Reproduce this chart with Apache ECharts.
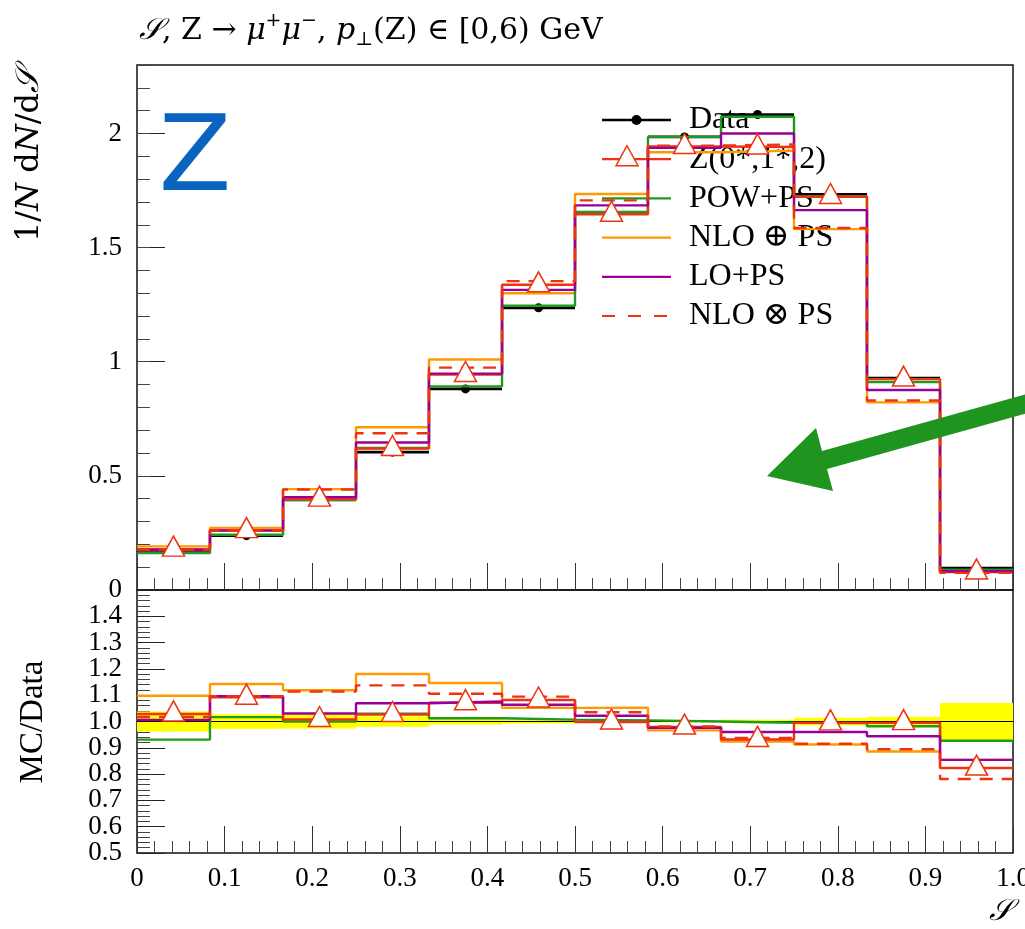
<!DOCTYPE html>
<html>
<head>
<meta charset="utf-8">
<title>Event shape S, Z to mu mu</title>
<script src="https://cdn.jsdelivr.net/npm/echarts@6/dist/echarts.min.js"></script>
<style>
  html, body { margin: 0; padding: 0; background: #fff; }
  #chart { width: 1025px; height: 929px; }
</style>
</head>
<body>
<div id="chart"></div>
<script>
// Bin edges of the S histogram (12 equal bins on [0, 1])
const binEdges = [0, 0.0833, 0.1667, 0.25, 0.3333, 0.4167, 0.5, 0.5833, 0.6667, 0.75, 0.8333, 0.9167, 1.0];

// Measured distribution 1/N dN/dS and its relative uncertainty
const dataVals   = [0.174, 0.238, 0.395, 0.604, 0.881, 1.236, 1.649, 1.985, 2.083, 1.733, 0.928, 0.096];
const dataRelErr = [0.038, 0.028, 0.027, 0.020, 0.011, 0.008, 0.005, 0.004, 0.007, 0.014, 0.018, 0.070];

// Predictions
const zVals        = [0.179, 0.260, 0.398, 0.620, 0.944, 1.337, 1.646, 1.943, 1.941, 1.724, 0.924, 0.079]; // Z(0*,1*,2)
const powVals      = [0.162, 0.242, 0.395, 0.622, 0.892, 1.245, 1.656, 1.985, 2.073, 1.723, 0.911, 0.089]; // POW+PS
const nloPlusVals  = [0.191, 0.272, 0.442, 0.713, 1.010, 1.300, 1.735, 1.918, 1.925, 1.581, 0.822, 0.082]; // NLO (+) PS
const loVals       = [0.175, 0.261, 0.407, 0.646, 0.948, 1.315, 1.685, 1.937, 2.000, 1.664, 0.876, 0.082]; // LO+PS
const nloTimesVals = [0.177, 0.261, 0.440, 0.687, 0.974, 1.353, 1.707, 1.947, 1.952, 1.586, 0.830, 0.075]; // NLO (x) PS

// Tick labels
const xTickLabels     = ['0', '0.1', '0.2', '0.3', '0.4', '0.5', '0.6', '0.7', '0.8', '0.9', '1.0'];
const yTickLabels     = ['0', '0.5', '1', '1.5', '2'];
const ratioTickLabels = ['0.5', '0.6', '0.7', '0.8', '0.9', '1.0', '1.1', '1.2', '1.3', '1.4'];

const RED = '#ee3311', GREEN = '#1e9a1e', ORANGE = '#ff9900', PURPLE = '#990099';
const SERIF = "'Liberation Serif', 'DejaVu Serif', serif";
const MATH = "'DejaVu Serif', 'Liberation Serif', serif";

const binCenters = dataVals.map((_, i) => (binEdges[i] + binEdges[i + 1]) / 2);
const toRatio = vals => vals.map((v, i) => v / dataVals[i]);
const stepData = vals => vals.map((v, i) => [binEdges[i], v]).concat([[binEdges[binEdges.length - 1], vals[vals.length - 1]]]);
const ratioLabel = v => ratioTickLabels[Math.round((v - 0.5) * 10)] ?? '';

const G = { left: 137, width: 876 };

const chart = echarts.init(document.getElementById('chart'), null, { renderer: 'canvas' });

function xAxisDef(gridIndex, withLabels) {
  return {
    type: 'value', gridIndex, position: 'bottom', min: 0, max: 1, interval: 0.1,
    axisLine: { show: false },
    axisTick: { show: true, inside: true, length: 27, lineStyle: { color: '#333', width: 1 } },
    minorTick: { show: true, splitNumber: 5, length: 12, lineStyle: { color: '#444', width: 1 } },
    splitLine: { show: false }, minorSplitLine: { show: false },
    axisLabel: {
      show: withLabels, margin: 12, color: '#000', fontFamily: SERIF, fontSize: 27,
      showMinLabel: true, showMaxLabel: true, hideOverlap: false,
      formatter: v => xTickLabels[Math.round(v * 10)] ?? ''
    }
  };
}

function stepSeries(name, vals, color, lower, dashed, z) {
  return {
    type: 'line', name, step: 'end', showSymbol: false, symbol: 'none', z,
    xAxisIndex: lower ? 1 : 0, yAxisIndex: lower ? 2 : 0,
    data: stepData(lower ? toRatio(vals) : vals),
    lineStyle: { color, width: 2.4, type: dashed ? [13, 9] : 'solid' },
    emphasis: { disabled: true }, silent: true
  };
}

function triangleSeries(lower) {
  const vals = lower ? toRatio(zVals) : zVals;
  return {
    type: 'scatter', name: 'Z(0*,1*,2)', z: 10,
    xAxisIndex: lower ? 1 : 0, yAxisIndex: lower ? 2 : 0,
    data: vals.map((v, i) => [binCenters[i], v]),
    symbol: 'triangle', symbolSize: [22, 20], symbolOffset: [0, -3],
    itemStyle: { color: '#fff', borderColor: RED, borderWidth: 1.5, opacity: 1 },
    emphasis: { disabled: true }, silent: true
  };
}

// legend rows drawn as graphics
const legendRows = [
  { label: 'Data', color: '#000', width: 2.5, marker: 'dot' },
  { label: 'Z(0*,1*,2)', color: RED, width: 2.2, marker: 'tri' },
  { label: 'POW+PS', color: GREEN, width: 2.2 },
  { label: 'NLO \u2295 PS', color: ORANGE, width: 2.2 },
  { label: 'LO+PS', color: PURPLE, width: 2.2 },
  { label: 'NLO \u2297 PS', color: RED, width: 2.2, dashed: true }
];
const legendChildren = [];
legendRows.forEach((r, i) => {
  const y = 120 + 39.2 * i;
  legendChildren.push({
    type: 'line', shape: { x1: 602, y1: y, x2: 671, y2: y },
    style: { stroke: r.color, lineWidth: r.width, lineDash: r.dashed ? [13, 13] : null }
  });
  if (r.marker === 'dot') {
    legendChildren.push({ type: 'circle', shape: { cx: 636.5, cy: y, r: 5 }, style: { fill: '#000' } });
  } else if (r.marker === 'tri') {
    legendChildren.push({
      type: 'polygon', shape: { points: [[627, y - 13.5], [616, y + 6.5], [638, y + 6.5]] },
      style: { fill: '#fff', stroke: RED, lineWidth: 1.5 }
    });
  }
  legendChildren.push({
    type: 'text', x: 689, y: y,
    style: { text: r.label, fill: '#000', fontFamily: SERIF, fontSize: 32, verticalAlign: 'middle' }
  });
});

const option = {
  animation: false,
  backgroundColor: '#fff',
  grid: [
    { left: G.left, top: 65, width: G.width, height: 525, show: true, borderColor: '#111', borderWidth: 1.5,
      backgroundColor: 'transparent', containLabel: false, outerBoundsMode: 'none' },
    { left: G.left, top: 590, width: G.width, height: 263, show: true, borderColor: '#111', borderWidth: 1.5,
      backgroundColor: 'transparent', containLabel: false, outerBoundsMode: 'none' }
  ],
  xAxis: [xAxisDef(0, false), xAxisDef(1, true)],
  yAxis: [
    {
      type: 'value', gridIndex: 0, position: 'left', min: 0, max: 2.3, interval: 0.5,
      axisLine: { show: false },
      axisTick: { show: true, inside: true, length: 28, lineStyle: { color: '#222' } },
      splitLine: { show: false },
      axisLabel: { margin: 15, color: '#000', fontFamily: SERIF, fontSize: 27, showMinLabel: true, showMaxLabel: false, hideOverlap: false,
                   formatter: v => { const k = Math.round(v * 2); return Math.abs(v * 2 - k) < 1e-6 ? (yTickLabels[k] ?? '') : ''; } }
    },
    {
      // minor ticks every 0.1 on the main panel
      type: 'value', gridIndex: 0, position: 'left', offset: 0, min: 0, max: 2.3, interval: 0.1,
      axisLine: { show: false },
      axisTick: { show: true, inside: true, length: 13, lineStyle: { color: '#444' } },
      splitLine: { show: false }, axisLabel: { show: false }
    },
    {
      // ratio axis: ticks and labels 0.6 ... 1.4
      type: 'value', gridIndex: 1, position: 'left', min: 0.5, max: 1.5, interval: 0.1,
      axisLine: { show: false },
      axisTick: { show: true, inside: true, length: 28, lineStyle: { color: '#222' } },
      minorTick: { show: true, splitNumber: 5, length: 13, lineStyle: { color: '#444' } },
      splitLine: { show: false }, minorSplitLine: { show: false },
      axisLabel: { margin: 15, color: '#000', fontFamily: SERIF, fontSize: 27, showMinLabel: false, showMaxLabel: false, hideOverlap: false,
                   formatter: ratioLabel }
    },
    {
      // ratio axis: bottom label 0.5 only
      type: 'value', gridIndex: 1, position: 'left', offset: 0, min: 0.5, max: 1.5, interval: 0.1,
      axisLine: { show: false }, axisTick: { show: false }, splitLine: { show: false },
      axisLabel: { margin: 15, color: '#000', fontFamily: SERIF, fontSize: 27, showMinLabel: true, showMaxLabel: false, hideOverlap: false,
                   formatter: v => (Math.abs(v - 0.5) < 1e-6 ? ratioLabel(v) : '') }
    }
  ],
  series: [
    // data uncertainty band in the ratio panel
    {
      type: 'custom', name: 'band', xAxisIndex: 1, yAxisIndex: 2, z: 1, silent: true,
      data: dataVals.map((v, i) => [binEdges[i], binEdges[i + 1], 1 - dataRelErr[i], 1 + dataRelErr[i]]),
      encode: { x: [0, 1], y: [2, 3] },
      renderItem(params, api) {
        const a = api.coord([api.value(0), api.value(3)]);
        const b = api.coord([api.value(1), api.value(2)]);
        return { type: 'rect', shape: { x: a[0], y: a[1], width: b[0] - a[0], height: b[1] - a[1] }, style: { fill: '#ffff00' } };
      }
    },
    // data reference line in the ratio panel (data / data)
    {
      type: 'custom', name: 'Data ratio', xAxisIndex: 1, yAxisIndex: 2, z: 2, silent: true,
      data: dataVals.map((v, i) => [binEdges[i], binEdges[i + 1], v / dataVals[i]]),
      encode: { x: [0, 1], y: 2 },
      renderItem(params, api) {
        const a = api.coord([api.value(0), api.value(2)]);
        const b = api.coord([api.value(1), api.value(2)]);
        return { type: 'line', shape: { x1: a[0], y1: a[1], x2: b[0], y2: b[1] }, style: { stroke: '#000', lineWidth: 1.2 } };
      }
    },
    // measured points in the main panel
    {
      type: 'custom', name: 'Data', xAxisIndex: 0, yAxisIndex: 0, z: 3, silent: true,
      data: dataVals.map((v, i) => [binEdges[i], binEdges[i + 1], v]),
      encode: { x: [0, 1], y: 2 },
      renderItem(params, api) {
        const lo = api.value(0), hi = api.value(1), v = api.value(2);
        const a = api.coord([lo, v]), b = api.coord([hi, v]), c = api.coord([(lo + hi) / 2, v]);
        return { type: 'group', children: [
          { type: 'line', shape: { x1: a[0], y1: a[1], x2: b[0], y2: b[1] }, style: { stroke: '#000', lineWidth: 2.8 } },
          { type: 'circle', shape: { cx: c[0], cy: c[1], r: 4.5 }, style: { fill: '#000' } }
        ] };
      }
    },
    stepSeries('NLO \u2295 PS', nloPlusVals, ORANGE, false, false, 4),
    stepSeries('POW+PS', powVals, GREEN, false, false, 5),
    stepSeries('Z(0*,1*,2)', zVals, RED, false, false, 6),
    stepSeries('LO+PS', loVals, PURPLE, false, false, 7),
    stepSeries('NLO \u2297 PS', nloTimesVals, RED, false, true, 8),
    triangleSeries(false),
    stepSeries('NLO \u2295 PS', nloPlusVals, ORANGE, true, false, 4),
    stepSeries('POW+PS', powVals, GREEN, true, false, 5),
    stepSeries('Z(0*,1*,2)', zVals, RED, true, false, 6),
    stepSeries('LO+PS', loVals, PURPLE, true, false, 7),
    stepSeries('NLO \u2297 PS', nloTimesVals, RED, true, true, 8),
    triangleSeries(true)
  ],
  graphic: [
    // plot title
    {
      type: 'text', left: 139, top: 12, z: 20,
      style: {
        text: '{i|\uD835\uDCAE}, Z \u2192 {i|\u03BC}{sup|+}{i|\u03BC}{sup|\u2212}, {i|p}{sub|\u22A5}(Z) \u2208 [0,6) GeV',
        fill: '#000', fontFamily: MATH, fontSize: 30, lineHeight: 38,
        rich: {
          i: { fontFamily: MATH, fontStyle: 'italic', fontSize: 30, lineHeight: 38 },
          sup: { fontFamily: MATH, fontSize: 19, lineHeight: 19, verticalAlign: 'top' },
          sub: { fontFamily: MATH, fontSize: 19, lineHeight: 19, verticalAlign: 'bottom' }
        }
      }
    },
    // y-axis title, main panel
    {
      type: 'text', x: 30, y: 155, rotation: Math.PI / 2, z: 20,
      style: {
        text: '1/{i|N} d{i|N}/d{i|\uD835\uDCAE}', fill: '#000', fontFamily: MATH, fontSize: 32,
        align: 'center', verticalAlign: 'middle',
        rich: { i: { fontFamily: MATH, fontStyle: 'italic', fontSize: 32 } }
      }
    },
    // y-axis title, ratio panel
    {
      type: 'text', x: 33, y: 722, rotation: Math.PI / 2, z: 20,
      style: { text: 'MC/Data', fill: '#000', fontFamily: SERIF, fontSize: 33, align: 'center', verticalAlign: 'middle' }
    },
    // x-axis title
    {
      type: 'text', x: 1012, y: 912, z: 20,
      style: { text: '\uD835\uDCAE', fill: '#000', fontFamily: MATH, fontStyle: 'italic', fontSize: 30, align: 'right', verticalAlign: 'middle' }
    },
    // process tag
    {
      type: 'text', x: 195, y: 162, z: 20,
      style: { text: 'Z', fill: '#0a64bf', fontFamily: "'DejaVu Sans', 'Liberation Sans', sans-serif", fontSize: 106, align: 'center', verticalAlign: 'middle' }
    },
    // pointer arrow
    {
      type: 'polygon', z: 20,
      shape: { points: [[1042, 409], [827, 469], [833, 491], [767, 476], [816, 428], [822, 451], [1038, 391]] },
      style: { fill: '#1f941f' }
    },
    { type: 'group', z: 30, children: legendChildren }
  ]
};

chart.setOption(option);
</script>
</body>
</html>
